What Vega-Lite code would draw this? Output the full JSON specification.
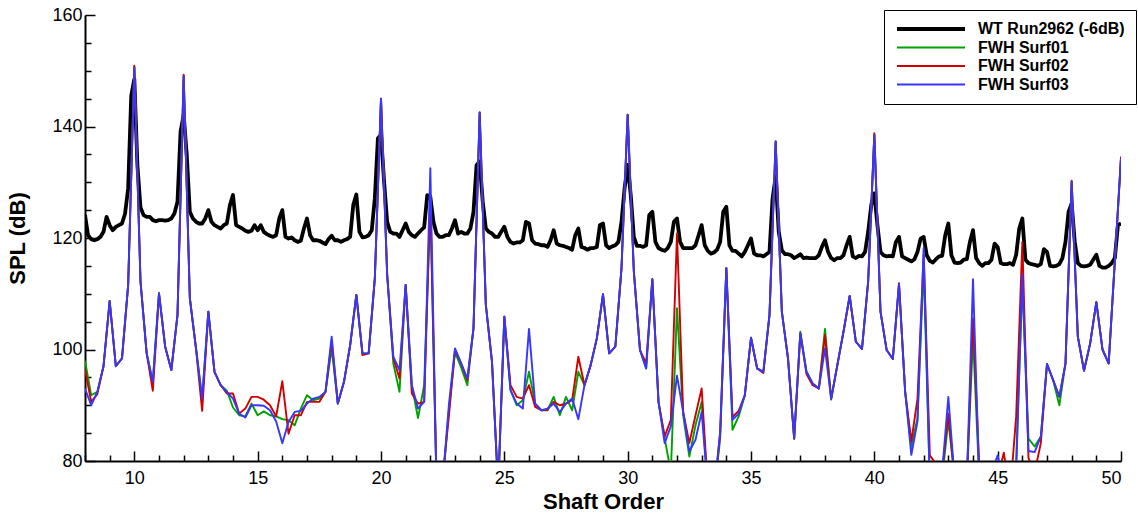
{
"$schema": "https://vega.github.io/schema/vega-lite/v6.json",
"width": 1036, "height": 446,
"autosize": {"type": "none"},
"padding": {"left": 85, "top": 15, "right": 17, "bottom": 55},
"background": "white",
"title": {"text": "(a)", "fontSize": 22, "font": "Liberation Sans", "fontWeight": "normal", "color": "#333333", "anchor": "middle", "baseline": "alphabetic", "offset": 14, "dx": -33},
"config": {
  "view": {"stroke": null},
  "axis": {"domainColor": "black", "domainWidth": 2, "tickColor": "black", "tickWidth": 1.5, "labelFont": "Liberation Sans", "labelFontSize": 18, "labelColor": "black", "titleFont": "Liberation Sans", "titleFontSize": 22, "titleFontWeight": "bold", "titleColor": "black", "grid": false},
  "legend": {"orient": "none", "legendX": 799, "legendY": -5, "symbolType": "stroke", "symbolSize": 4624, "labelFont": "Liberation Sans", "labelFontWeight": "bold", "labelFontSize": 16, "labelColor": "black", "strokeColor": "black", "fillColor": "white", "padding": 11, "rowPadding": 2.5, "clipHeight": 16, "labelOffset": 11, "labelLimit": 300}
},
"datasets": {
"wt": [
{"x":8,"wt":124.1},{"x":8.125,"wt":120.5},{"x":8.25,"wt":119.8},{"x":8.375,"wt":119.6},{"x":8.5,"wt":119.8},{"x":8.625,"wt":120.2},{"x":8.75,"wt":121.1},{"x":8.875,"wt":123.8},
{"x":9,"wt":122.3},{"x":9.125,"wt":121.4},{"x":9.25,"wt":122},{"x":9.375,"wt":122.3},{"x":9.5,"wt":122.6},{"x":9.625,"wt":124.4},{"x":9.75,"wt":128.9},{"x":9.875,"wt":145.5},
{"x":10,"wt":148.5},{"x":10.125,"wt":133},{"x":10.25,"wt":125.5},{"x":10.375,"wt":124.1},{"x":10.5,"wt":123.8},{"x":10.625,"wt":123.8},{"x":10.75,"wt":123.2},{"x":10.875,"wt":123},
{"x":11,"wt":123.2},{"x":11.125,"wt":123.2},{"x":11.25,"wt":123.1},{"x":11.375,"wt":123.2},{"x":11.5,"wt":123.5},{"x":11.625,"wt":124.4},{"x":11.75,"wt":126.5},{"x":11.875,"wt":139.1},
{"x":12,"wt":142.1},{"x":12.125,"wt":134.9},{"x":12.25,"wt":124.7},{"x":12.375,"wt":123.5},{"x":12.5,"wt":122.9},{"x":12.625,"wt":122.6},{"x":12.75,"wt":122.6},{"x":12.875,"wt":123.5},
{"x":13,"wt":125},{"x":13.125,"wt":122.9},{"x":13.25,"wt":122.3},{"x":13.375,"wt":122},{"x":13.5,"wt":121.7},{"x":13.625,"wt":122.3},{"x":13.75,"wt":122.6},{"x":13.875,"wt":125.9},
{"x":14,"wt":127.7},{"x":14.125,"wt":122.3},{"x":14.25,"wt":122},{"x":14.375,"wt":121.7},{"x":14.5,"wt":121.3},{"x":14.625,"wt":121.1},{"x":14.75,"wt":121.3},{"x":14.875,"wt":122.3},
{"x":15,"wt":121.4},{"x":15.125,"wt":122.3},{"x":15.25,"wt":121.1},{"x":15.375,"wt":120.7},{"x":15.5,"wt":120.4},{"x":15.625,"wt":120.2},{"x":15.75,"wt":120.5},{"x":15.875,"wt":123.5},
{"x":16,"wt":125},{"x":16.125,"wt":120.2},{"x":16.25,"wt":119.9},{"x":16.375,"wt":120.1},{"x":16.5,"wt":119.6},{"x":16.625,"wt":119.3},{"x":16.75,"wt":119.5},{"x":16.875,"wt":121.7},
{"x":17,"wt":123.5},{"x":17.125,"wt":120.5},{"x":17.25,"wt":119.6},{"x":17.375,"wt":119.6},{"x":17.5,"wt":119.5},{"x":17.625,"wt":119.2},{"x":17.75,"wt":118.9},{"x":17.875,"wt":119.8},
{"x":18,"wt":120.4},{"x":18.125,"wt":119.6},{"x":18.25,"wt":119.6},{"x":18.375,"wt":119.3},{"x":18.5,"wt":119.6},{"x":18.625,"wt":119.8},{"x":18.75,"wt":120.2},{"x":18.875,"wt":125.9},
{"x":19,"wt":127.8},{"x":19.125,"wt":121.1},{"x":19.25,"wt":120.1},{"x":19.375,"wt":120.2},{"x":19.5,"wt":120.5},{"x":19.625,"wt":121.4},{"x":19.75,"wt":127.1},{"x":19.875,"wt":137.9},
{"x":20,"wt":138.5},{"x":20.125,"wt":130.1},{"x":20.25,"wt":122.9},{"x":20.375,"wt":121.1},{"x":20.5,"wt":120.8},{"x":20.625,"wt":120.8},{"x":20.75,"wt":120.2},{"x":20.875,"wt":121.4},
{"x":21,"wt":122.6},{"x":21.125,"wt":121.1},{"x":21.25,"wt":120.5},{"x":21.375,"wt":120.2},{"x":21.5,"wt":120.8},{"x":21.625,"wt":121.4},{"x":21.75,"wt":121.9},{"x":21.875,"wt":127.7},
{"x":22,"wt":127.4},{"x":22.125,"wt":122.9},{"x":22.25,"wt":120.8},{"x":22.375,"wt":120.2},{"x":22.5,"wt":120.2},{"x":22.625,"wt":120.5},{"x":22.75,"wt":120.5},{"x":22.875,"wt":121.7},
{"x":23,"wt":123.2},{"x":23.125,"wt":120.8},{"x":23.25,"wt":121.1},{"x":23.375,"wt":120.8},{"x":23.5,"wt":120.8},{"x":23.625,"wt":121.7},{"x":23.75,"wt":124.7},{"x":23.875,"wt":133.1},
{"x":24,"wt":133.7},{"x":24.125,"wt":126.5},{"x":24.25,"wt":121.7},{"x":24.375,"wt":121.1},{"x":24.5,"wt":120.8},{"x":24.625,"wt":120.2},{"x":24.75,"wt":120.2},{"x":24.875,"wt":121.1},
{"x":25,"wt":122},{"x":25.125,"wt":120.2},{"x":25.25,"wt":119.3},{"x":25.375,"wt":119},{"x":25.5,"wt":119.2},{"x":25.625,"wt":119.2},{"x":25.75,"wt":119.6},{"x":25.875,"wt":122.9},
{"x":26,"wt":122.6},{"x":26.125,"wt":119.6},{"x":26.25,"wt":119},{"x":26.375,"wt":118.9},{"x":26.5,"wt":118.7},{"x":26.625,"wt":118.7},{"x":26.75,"wt":118.4},{"x":26.875,"wt":119.6},
{"x":27,"wt":121.4},{"x":27.125,"wt":119},{"x":27.25,"wt":118.7},{"x":27.375,"wt":118.6},{"x":27.5,"wt":118.4},{"x":27.625,"wt":118.2},{"x":27.75,"wt":117.9},{"x":27.875,"wt":120.5},
{"x":28,"wt":121.7},{"x":28.125,"wt":118.4},{"x":28.25,"wt":118.2},{"x":28.375,"wt":117.9},{"x":28.5,"wt":118.2},{"x":28.625,"wt":118.2},{"x":28.75,"wt":118.4},{"x":28.875,"wt":122.3},
{"x":29,"wt":122.6},{"x":29.125,"wt":118.7},{"x":29.25,"wt":118.2},{"x":29.375,"wt":118.5},{"x":29.5,"wt":118.7},{"x":29.625,"wt":119.3},{"x":29.75,"wt":122.9},{"x":29.875,"wt":128.9},
{"x":30,"wt":133.1},{"x":30.125,"wt":127.7},{"x":30.25,"wt":120.2},{"x":30.375,"wt":118.6},{"x":30.5,"wt":118.6},{"x":30.625,"wt":118.4},{"x":30.75,"wt":118.7},{"x":30.875,"wt":124.1},
{"x":31,"wt":124.7},{"x":31.125,"wt":119.3},{"x":31.25,"wt":118.2},{"x":31.375,"wt":117.9},{"x":31.5,"wt":117.7},{"x":31.625,"wt":118.2},{"x":31.75,"wt":119.3},{"x":31.875,"wt":122.9},
{"x":32,"wt":123.5},{"x":32.125,"wt":119.3},{"x":32.25,"wt":118.2},{"x":32.375,"wt":118.2},{"x":32.5,"wt":118.2},{"x":32.625,"wt":118.2},{"x":32.75,"wt":118.7},{"x":32.875,"wt":120.5},
{"x":33,"wt":122.3},{"x":33.125,"wt":118.7},{"x":33.25,"wt":117.7},{"x":33.375,"wt":117.2},{"x":33.5,"wt":117.4},{"x":33.625,"wt":117.9},{"x":33.75,"wt":119.3},{"x":33.875,"wt":124.7},
{"x":34,"wt":125.6},{"x":34.125,"wt":118.7},{"x":34.25,"wt":117.7},{"x":34.375,"wt":117.7},{"x":34.5,"wt":117.2},{"x":34.625,"wt":116.7},{"x":34.75,"wt":117.5},{"x":34.875,"wt":118.7},
{"x":35,"wt":119.9},{"x":35.125,"wt":117.2},{"x":35.25,"wt":116.9},{"x":35.375,"wt":116.9},{"x":35.5,"wt":116.7},{"x":35.625,"wt":117.1},{"x":35.75,"wt":117.5},{"x":35.875,"wt":127.1},
{"x":36,"wt":131},{"x":36.125,"wt":121.1},{"x":36.25,"wt":117.8},{"x":36.375,"wt":117.1},{"x":36.5,"wt":117.1},{"x":36.625,"wt":116.9},{"x":36.75,"wt":116.4},{"x":36.875,"wt":116.7},
{"x":37,"wt":117.1},{"x":37.125,"wt":116.4},{"x":37.25,"wt":116.5},{"x":37.375,"wt":116.4},{"x":37.5,"wt":116.4},{"x":37.625,"wt":116.4},{"x":37.75,"wt":116.9},{"x":37.875,"wt":118.4},
{"x":38,"wt":119.6},{"x":38.125,"wt":117.5},{"x":38.25,"wt":116.4},{"x":38.375,"wt":116},{"x":38.5,"wt":116.4},{"x":38.625,"wt":116.4},{"x":38.75,"wt":116.9},{"x":38.875,"wt":118.7},
{"x":39,"wt":120.2},{"x":39.125,"wt":116.7},{"x":39.25,"wt":116.4},{"x":39.375,"wt":116.8},{"x":39.5,"wt":116.7},{"x":39.625,"wt":117.5},{"x":39.75,"wt":121.1},{"x":39.875,"wt":125.9},
{"x":40,"wt":128},{"x":40.125,"wt":122.3},{"x":40.25,"wt":117.5},{"x":40.375,"wt":116.9},{"x":40.5,"wt":116.7},{"x":40.625,"wt":116.8},{"x":40.75,"wt":116.7},{"x":40.875,"wt":119.3},
{"x":41,"wt":120.2},{"x":41.125,"wt":116.7},{"x":41.25,"wt":116.4},{"x":41.375,"wt":116.1},{"x":41.5,"wt":115.8},{"x":41.625,"wt":116.2},{"x":41.75,"wt":117.5},{"x":41.875,"wt":119.9},
{"x":42,"wt":120.2},{"x":42.125,"wt":116.9},{"x":42.25,"wt":115.9},{"x":42.375,"wt":115.6},{"x":42.5,"wt":116.2},{"x":42.625,"wt":116.7},{"x":42.75,"wt":116.8},{"x":42.875,"wt":120.5},
{"x":43,"wt":122.6},{"x":43.125,"wt":116.9},{"x":43.25,"wt":115.6},{"x":43.375,"wt":115.5},{"x":43.5,"wt":115.6},{"x":43.625,"wt":116.1},{"x":43.75,"wt":116.2},{"x":43.875,"wt":119.3},
{"x":44,"wt":121.4},{"x":44.125,"wt":116.4},{"x":44.25,"wt":115.5},{"x":44.375,"wt":115},{"x":44.5,"wt":115.5},{"x":44.625,"wt":115.5},{"x":44.75,"wt":116.1},{"x":44.875,"wt":119},
{"x":45,"wt":118.4},{"x":45.125,"wt":115.5},{"x":45.25,"wt":115.3},{"x":45.375,"wt":115.3},{"x":45.5,"wt":115.5},{"x":45.625,"wt":115.2},{"x":45.75,"wt":117},{"x":45.875,"wt":121.7},
{"x":46,"wt":123.5},{"x":46.125,"wt":116.1},{"x":46.25,"wt":115.5},{"x":46.375,"wt":115.3},{"x":46.5,"wt":115.2},{"x":46.625,"wt":115},{"x":46.75,"wt":115.3},{"x":46.875,"wt":118},
{"x":47,"wt":117.5},{"x":47.125,"wt":115},{"x":47.25,"wt":114.9},{"x":47.375,"wt":115},{"x":47.5,"wt":115.3},{"x":47.625,"wt":116.4},{"x":47.75,"wt":119.3},{"x":47.875,"wt":124.7},
{"x":48,"wt":126.2},{"x":48.125,"wt":119.3},{"x":48.25,"wt":115.5},{"x":48.375,"wt":115},{"x":48.5,"wt":114.9},{"x":48.625,"wt":115},{"x":48.75,"wt":115.2},{"x":48.875,"wt":116.1},
{"x":49,"wt":117},{"x":49.125,"wt":115},{"x":49.25,"wt":114.7},{"x":49.375,"wt":114.7},{"x":49.5,"wt":115},{"x":49.625,"wt":115.5},{"x":49.75,"wt":116.4},{"x":49.875,"wt":122.3},
{"x":50,"wt":122.6}
],
"fwh": [
{"x":8,"s1":98,"s2":96.5,"s3":93},{"x":8.25,"s1":91.8,"s2":90.6,"s3":90},{"x":8.5,"s1":92.4,"s2":92,"s3":92.4},{"x":8.75,"s1":97,"s2":97,"s3":97},
{"x":9,"s1":108.7,"s2":108.7,"s3":108.7},{"x":9.25,"s1":97,"s2":97,"s3":97},{"x":9.5,"s1":98.4,"s2":98.4,"s3":98.4},{"x":9.75,"s1":111.6,"s2":111.6,"s3":111.6},
{"x":10,"s1":150.7,"s2":150.9,"s3":150.5},{"x":10.25,"s1":112.2,"s2":112.2,"s3":112.2},{"x":10.5,"s1":99.3,"s2":99.3,"s3":99.3},{"x":10.75,"s1":94.2,"s2":92.6,"s3":94.2},
{"x":11,"s1":110.2,"s2":110,"s3":110},{"x":11.25,"s1":100.5,"s2":100.5,"s3":100.5},{"x":11.5,"s1":96.3,"s2":96.3,"s3":96.3},{"x":11.75,"s1":106.2,"s2":106.2,"s3":106.2},
{"x":12,"s1":149.1,"s2":149.3,"s3":149},{"x":12.25,"s1":109.2,"s2":109.2,"s3":109.2},{"x":12.5,"s1":100.2,"s2":100.2,"s3":100.2},{"x":12.75,"s1":91.2,"s2":89,"s3":91.2},
{"x":13,"s1":106.8,"s2":106.8,"s3":106.8},{"x":13.25,"s1":96,"s2":96,"s3":96},{"x":13.5,"s1":93.6,"s2":93.6,"s3":93.6},{"x":13.75,"s1":92.6,"s2":92.1,"s3":92.4},
{"x":14,"s1":89.6,"s2":92.1,"s3":91.2},{"x":14.25,"s1":88.2,"s2":88.5,"s3":88.5},{"x":14.5,"s1":88,"s2":89.4,"s3":87.8},{"x":14.75,"s1":90.3,"s2":91.5,"s3":90},
{"x":15,"s1":88.2,"s2":91.5,"s3":90},{"x":15.25,"s1":88.9,"s2":91,"s3":89.9},{"x":15.5,"s1":88.2,"s2":90,"s3":89.1},{"x":15.75,"s1":88,"s2":88,"s3":87.1},
{"x":16,"s1":87.5,"s2":94.3,"s3":83.2},{"x":16.25,"s1":87.3,"s2":84.9,"s3":87},{"x":16.5,"s1":86.4,"s2":88.2,"s3":88.8},{"x":16.75,"s1":89.4,"s2":88.2,"s3":89},
{"x":17,"s1":91.8,"s2":90.6,"s3":90.3},{"x":17.25,"s1":90.9,"s2":90.6,"s3":91.2},{"x":17.5,"s1":91.2,"s2":90.6,"s3":91.5},{"x":17.75,"s1":92.4,"s2":92.4,"s3":92.4},
{"x":18,"s1":100.2,"s2":101.5,"s3":102.3},{"x":18.25,"s1":90.3,"s2":90.3,"s3":90.3},{"x":18.5,"s1":94.2,"s2":94.2,"s3":94.2},{"x":18.75,"s1":100.8,"s2":100.8,"s3":100.8},
{"x":19,"s1":109.8,"s2":109.8,"s3":109.8},{"x":19.25,"s1":99.3,"s2":99,"s3":99.3},{"x":19.5,"s1":99.3,"s2":99.3,"s3":99.3},{"x":19.75,"s1":112.8,"s2":112.8,"s3":112.8},
{"x":20,"s1":145,"s2":145,"s3":145},{"x":20.25,"s1":113.4,"s2":113.4,"s3":113.4},{"x":20.5,"s1":97.5,"s2":98.5,"s3":98.7},{"x":20.75,"s1":92.4,"s2":94.8,"s3":96.3},
{"x":21,"s1":111.6,"s2":111.6,"s3":111.6},{"x":21.25,"s1":93.6,"s2":92.1,"s3":93.6},{"x":21.5,"s1":87.7,"s2":90.3,"s3":89.4},{"x":21.75,"s1":93.6,"s2":90.6,"s3":90.6},
{"x":22,"s1":126,"s2":127,"s3":132.5},{"x":22.25,"s1":76,"s2":76,"s3":76},{"x":22.5,"s1":76,"s2":77,"s3":76},{"x":22.75,"s1":89,"s2":88,"s3":90},
{"x":23,"s1":99.5,"s2":100,"s3":100.2},{"x":23.25,"s1":96.8,"s2":97.5,"s3":97.5},{"x":23.5,"s1":93.6,"s2":94.5,"s3":94.8},{"x":23.75,"s1":103.8,"s2":103.8,"s3":103.8},
{"x":24,"s1":142.5,"s2":142.5,"s3":142.5},{"x":24.25,"s1":108,"s2":108,"s3":108},{"x":24.5,"s1":97.8,"s2":97.8,"s3":97.8},{"x":24.75,"s1":75,"s2":75,"s3":75},
{"x":25,"s1":105.9,"s2":105.9,"s3":105.9},{"x":25.25,"s1":92.7,"s2":93.6,"s3":92.7},{"x":25.5,"s1":90,"s2":91.5,"s3":90.3},{"x":25.75,"s1":90.9,"s2":91.2,"s3":89.4},
{"x":26,"s1":96,"s2":93.6,"s3":103.7},{"x":26.25,"s1":90.3,"s2":89.7,"s3":90.3},{"x":26.5,"s1":89.1,"s2":89.1,"s3":89.1},{"x":26.75,"s1":89.1,"s2":89.2,"s3":89.4},
{"x":27,"s1":91.5,"s2":90.6,"s3":90.3},{"x":27.25,"s1":88.2,"s2":90,"s3":88.8},{"x":27.5,"s1":91.5,"s2":90.3,"s3":90.3},{"x":27.75,"s1":89.1,"s2":90.9,"s3":91.2},
{"x":28,"s1":96,"s2":98.7,"s3":87.5},{"x":28.25,"s1":93.6,"s2":93.6,"s3":93.6},{"x":28.5,"s1":97.2,"s2":97.2,"s3":97.2},{"x":28.75,"s1":102,"s2":102,"s3":102},
{"x":29,"s1":109.9,"s2":109.9,"s3":109.9},{"x":29.25,"s1":99.3,"s2":99.3,"s3":99.3},{"x":29.5,"s1":100.5,"s2":100.5,"s3":100.5},{"x":29.75,"s1":114.6,"s2":114.6,"s3":114.6},
{"x":30,"s1":142.1,"s2":142.1,"s3":142.1},{"x":30.25,"s1":114,"s2":114,"s3":114},{"x":30.5,"s1":99.9,"s2":99.9,"s3":99.9},{"x":30.75,"s1":96.6,"s2":97.5,"s3":96.6},
{"x":31,"s1":112.6,"s2":112.6,"s3":112.6},{"x":31.25,"s1":90.6,"s2":90.6,"s3":90.6},{"x":31.5,"s1":84.1,"s2":84.4,"s3":83.2},{"x":31.75,"s1":78,"s2":87.4,"s3":86.2},
{"x":32,"s1":107.4,"s2":120.8,"s3":95.3},{"x":32.25,"s1":88.2,"s2":88.8,"s3":88.8},{"x":32.5,"s1":80.8,"s2":83.2,"s3":81.7},{"x":32.75,"s1":86.4,"s2":88.2,"s3":83.8},
{"x":33,"s1":90.6,"s2":93,"s3":88.8},{"x":33.25,"s1":75,"s2":75,"s3":75},{"x":33.5,"s1":74,"s2":74,"s3":74},{"x":33.75,"s1":84,"s2":85,"s3":85.3},
{"x":34,"s1":114.6,"s2":114.6,"s3":114.6},{"x":34.25,"s1":85.6,"s2":87.9,"s3":87.4},{"x":34.5,"s1":88,"s2":89,"s3":88.5},{"x":34.75,"s1":91.8,"s2":91.8,"s3":91.8},
{"x":35,"s1":102.1,"s2":102.1,"s3":102.1},{"x":35.25,"s1":96.6,"s2":96.6,"s3":96.6},{"x":35.5,"s1":96,"s2":95.8,"s3":96},{"x":35.75,"s1":106.2,"s2":106.2,"s3":106.2},
{"x":36,"s1":137.3,"s2":137.3,"s3":137.3},{"x":36.25,"s1":106.8,"s2":106.8,"s3":106.8},{"x":36.5,"s1":98.4,"s2":98.4,"s3":98.4},{"x":36.75,"s1":84,"s2":84,"s3":84.1},
{"x":37,"s1":103.2,"s2":102.9,"s3":102.9},{"x":37.25,"s1":96,"s2":95.6,"s3":96},{"x":37.5,"s1":93.9,"s2":93.6,"s3":93.9},{"x":37.75,"s1":93,"s2":93,"s3":93},
{"x":38,"s1":103.7,"s2":102.6,"s3":100.2},{"x":38.25,"s1":91,"s2":91.2,"s3":91.2},{"x":38.5,"s1":97.2,"s2":97.2,"s3":97.2},{"x":38.75,"s1":103.2,"s2":103.2,"s3":103.2},
{"x":39,"s1":109.6,"s2":109.6,"s3":109.6},{"x":39.25,"s1":101.4,"s2":101.4,"s3":101.4},{"x":39.5,"s1":100.1,"s2":100.1,"s3":100.1},{"x":39.75,"s1":112.2,"s2":112.2,"s3":112.2},
{"x":40,"s1":138.5,"s2":138.8,"s3":138.5},{"x":40.25,"s1":106.8,"s2":106.8,"s3":106.8},{"x":40.5,"s1":99.9,"s2":99.9,"s3":99.9},{"x":40.75,"s1":98.3,"s2":98.3,"s3":98.3},
{"x":41,"s1":111.7,"s2":111.9,"s3":111.7},{"x":41.25,"s1":92.4,"s2":92.4,"s3":92.4},{"x":41.5,"s1":82.6,"s2":83.5,"s3":81.1},{"x":41.75,"s1":87.7,"s2":91.2,"s3":87.1},
{"x":42,"s1":115,"s2":117,"s3":118.2},{"x":42.25,"s1":76,"s2":81,"s3":76},{"x":42.5,"s1":77,"s2":79.5,"s3":77},{"x":42.75,"s1":77,"s2":78,"s3":78},
{"x":43,"s1":87.3,"s2":88.5,"s3":91.5},{"x":43.25,"s1":77,"s2":77,"s3":77},{"x":43.5,"s1":72,"s2":72,"s3":72},{"x":43.75,"s1":76,"s2":77,"s3":76},
{"x":44,"s1":102.3,"s2":105.6,"s3":112.6},{"x":44.25,"s1":77,"s2":79.5,"s3":77},{"x":44.5,"s1":72,"s2":72,"s3":72},{"x":44.75,"s1":76,"s2":76,"s3":78},
{"x":45,"s1":77,"s2":77,"s3":81},{"x":45.25,"s1":76,"s2":81.5,"s3":76},{"x":45.5,"s1":74,"s2":74,"s3":74},{"x":45.75,"s1":80,"s2":88,"s3":78},
{"x":46,"s1":112,"s2":119.3,"s3":113.4},{"x":46.25,"s1":84,"s2":80.5,"s3":81.8},{"x":46.5,"s1":82.6,"s2":78,"s3":81.6},{"x":46.75,"s1":84.4,"s2":83.2,"s3":84.4},
{"x":47,"s1":97.4,"s2":97.4,"s3":97.4},{"x":47.25,"s1":94.5,"s2":94.5,"s3":94.5},{"x":47.5,"s1":90,"s2":91.5,"s3":91.5},{"x":47.75,"s1":97.5,"s2":97.5,"s3":97.5},
{"x":48,"s1":130.1,"s2":130.3,"s3":130.1},{"x":48.25,"s1":102.3,"s2":102.3,"s3":102.3},{"x":48.5,"s1":96.2,"s2":96.2,"s3":96.2},{"x":48.75,"s1":101.1,"s2":101.1,"s3":101.1},
{"x":49,"s1":108.5,"s2":108.5,"s3":108.5},{"x":49.25,"s1":100,"s2":100,"s3":100},{"x":49.5,"s1":97.5,"s2":97.5,"s3":97.5},{"x":49.75,"s1":115.8,"s2":115.8,"s3":115.8},
{"x":50,"s1":134.3,"s2":134.6,"s3":134.3}
]
},
"encoding": {
  "x": {"field": "x", "type": "quantitative", "title": "Shaft Order",
        "scale": {"domain": [8, 50], "nice": false, "zero": false},
        "axis": {"values": [8,9,10,11,12,13,14,15,16,17,18,19,20,21,22,23,24,25,26,27,28,29,30,31,32,33,34,35,36,37,38,39,40,41,42,43,44,45,46,47,48,49,50],
                 "labelExpr": "datum.value % 5 === 0 ? datum.label : ''",
                 "tickSize": {"condition": {"test": "datum.value % 5 === 0", "value": -10}, "value": -6},
                 "labelPadding": 18, "titlePadding": 4}},
  "y": {"field": "spl", "type": "quantitative", "title": "SPL (dB)",
        "scale": {"domain": [80, 160], "nice": false, "zero": false},
        "axis": {"values": [80,85,90,95,100,105,110,115,120,125,130,135,140,145,150,155,160],
                 "labelExpr": "datum.value % 20 === 0 ? datum.label : ''",
                 "tickSize": {"condition": {"test": "datum.value % 20 === 0", "value": -10}, "value": -6},
                 "labelPadding": 13, "titlePadding": 22}},
  "color": {"field": "series", "type": "nominal", "title": null,
            "scale": {"domain": ["wt", "s1", "s2", "s3"], "range": ["#000000", "#00a000", "#d00000", "#3636ff"]},
            "legend": {"labelExpr": "datum.label === 'wt' ? 'WT Run2962 (-6dB)' : datum.label === 's1' ? 'FWH Surf01' : datum.label === 's2' ? 'FWH Surf02' : 'FWH Surf03'"}},
  "strokeWidth": {"field": "series", "type": "nominal", "title": null,
            "scale": {"type": "ordinal", "domain": ["wt", "s1", "s2", "s3"], "range": [3.8, 1.9, 1.9, 1.9]},
            "legend": {"labelExpr": "datum.label === 'wt' ? 'WT Run2962 (-6dB)' : datum.label === 's1' ? 'FWH Surf01' : datum.label === 's2' ? 'FWH Surf02' : 'FWH Surf03'"}}
},
"layer": [
  {"data": {"name": "wt"}, "transform": [{"fold": ["wt"], "as": ["series", "spl"]}],
   "mark": {"type": "line", "clip": true, "strokeJoin": "round"}},
  {"data": {"name": "fwh"}, "transform": [{"fold": ["s1", "s2", "s3"], "as": ["series", "spl"]}],
   "mark": {"type": "line", "clip": true, "strokeJoin": "round"}}
]
}
